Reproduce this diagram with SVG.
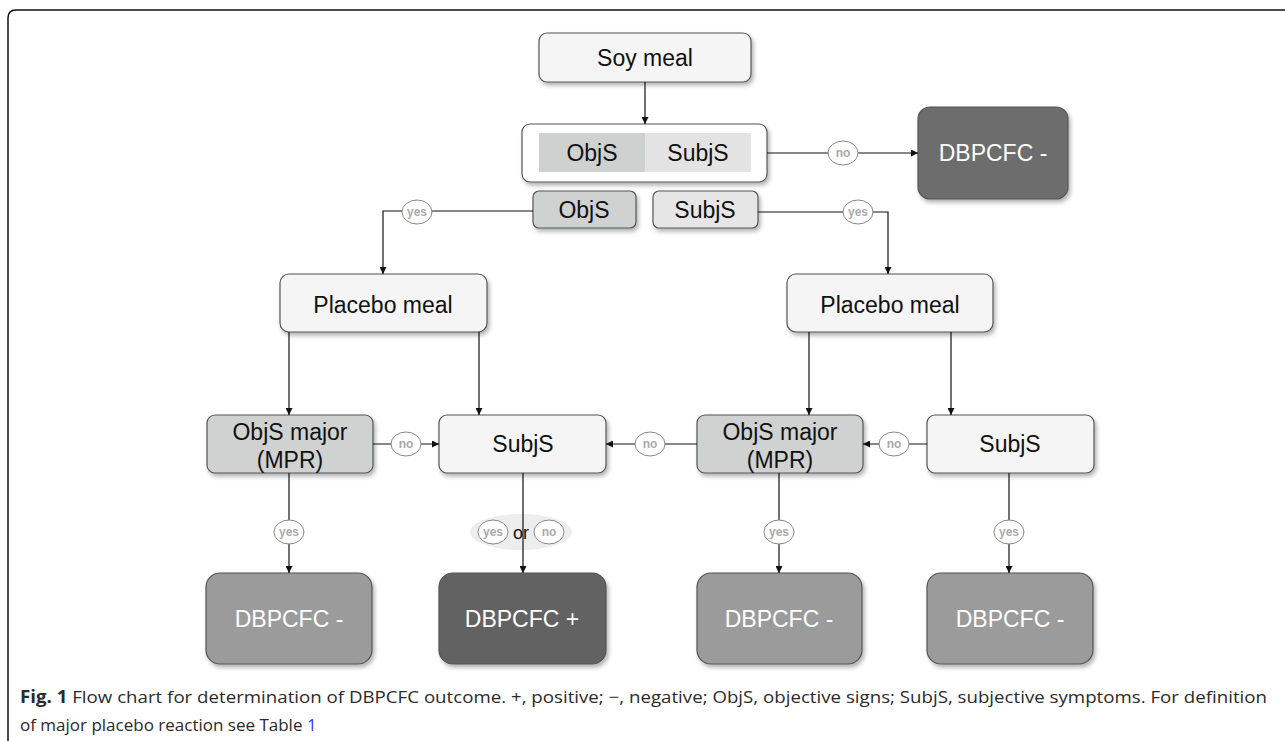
<svg xmlns="http://www.w3.org/2000/svg" width="1285" height="741" viewBox="0 0 1285 741">
<defs>
<filter id="sh" x="-10%" y="-10%" width="130%" height="140%">
<feDropShadow dx="2" dy="3" stdDeviation="2" flood-color="#000" flood-opacity="0.3"/>
</filter>
<marker id="ar" viewBox="0 0 10 10" refX="10" refY="5" markerWidth="7" markerHeight="7" orient="auto" markerUnits="userSpaceOnUse">
<path d="M0,0 L10,5 L0,10 z" fill="#111"/>
</marker>
</defs>
<style>
.box{stroke:#555;stroke-width:1.2}
.lt{fill:#f4f5f4}
.ob{fill:#d0d2d1}
.t{font-family:"Liberation Sans",Arial,sans-serif;font-size:23px;fill:#111;text-anchor:middle}
.w{fill:#fff}
.ln{stroke:#111;stroke-width:1.2;fill:none}
.lab ellipse{fill:#fff;stroke:#888;stroke-width:1}
.lab text{font-family:"Liberation Sans",Arial,sans-serif;font-size:12px;font-weight:bold;fill:#aaa;text-anchor:middle}
.cap{font-family:"Open Sans","Liberation Sans",sans-serif;font-size:17px;fill:#2a2a2a}
</style>
<rect width="1285" height="741" fill="#fff"/>
<path d="M8,741 L8,18 Q8,10 16,10 L1285,10" fill="none" stroke="#111" stroke-width="1.5"/>

<g id="soy"><rect class="box lt" x="539" y="33" width="212" height="49" rx="8" filter="url(#sh)"/><text class="t" x="645" y="66">Soy meal</text></g>
<g id="composite"><rect class="box" fill="#fff" x="522" y="124" width="245" height="58" rx="8" filter="url(#sh)"/>
<rect x="539" y="133" width="106" height="39" fill="#cfd1d0"/><rect x="645" y="133" width="106" height="39" fill="#e3e3e3"/>
<text class="t" x="592" y="161">ObjS</text><text class="t" x="698" y="161">SubjS</text></g>
<g id="dbpcfc-top"><rect class="box" fill="#6d6d6d" x="918" y="107" width="150" height="92" rx="12" filter="url(#sh)"/><text class="t w" x="993" y="161">DBPCFC -</text></g>
<g id="objs-small"><rect class="box ob" x="533" y="191" width="103" height="37" rx="6" filter="url(#sh)"/><text class="t" x="584" y="218">ObjS</text></g>
<g id="subjs-small"><rect class="box" fill="#e6e6e6" x="653" y="191" width="105" height="37" rx="6" filter="url(#sh)"/><text class="t" x="705" y="218">SubjS</text></g>
<g id="placebo-l"><rect class="box lt" x="280" y="274" width="207" height="58" rx="9" filter="url(#sh)"/><text class="t" x="383" y="313">Placebo meal</text></g>
<g id="placebo-r"><rect class="box lt" x="787" y="274" width="206" height="58" rx="9" filter="url(#sh)"/><text class="t" x="890" y="313">Placebo meal</text></g>
<g id="objsmajor-l"><rect class="box ob" x="207" y="415" width="166" height="58" rx="8" filter="url(#sh)"/><text class="t" x="290" y="440">ObjS major</text><text class="t" x="290" y="468">(MPR)</text></g>
<g id="subjs-l"><rect class="box lt" x="439" y="415" width="167" height="58" rx="8" filter="url(#sh)"/><text class="t" x="523" y="452">SubjS</text></g>
<g id="objsmajor-r"><rect class="box ob" x="697" y="415" width="166" height="58" rx="8" filter="url(#sh)"/><text class="t" x="780" y="440">ObjS major</text><text class="t" x="780" y="468">(MPR)</text></g>
<g id="subjs-r"><rect class="box lt" x="927" y="415" width="167" height="58" rx="8" filter="url(#sh)"/><text class="t" x="1010" y="452">SubjS</text></g>
<g id="neg1"><rect class="box" fill="#9b9b9b" x="206" y="573" width="166" height="91" rx="14" filter="url(#sh)"/><text class="t w" x="289" y="627">DBPCFC -</text></g>
<g id="pos"><rect class="box" fill="#626262" x="439" y="573" width="167" height="91" rx="14" filter="url(#sh)"/><text class="t w" x="522" y="627">DBPCFC +</text></g>
<g id="neg2"><rect class="box" fill="#9b9b9b" x="697" y="573" width="165" height="91" rx="14" filter="url(#sh)"/><text class="t w" x="779" y="627">DBPCFC -</text></g>
<g id="neg3"><rect class="box" fill="#9b9b9b" x="927" y="573" width="166" height="91" rx="14" filter="url(#sh)"/><text class="t w" x="1010" y="627">DBPCFC -</text></g>

<g id="connectors">
<path class="ln" d="M645,82 V124" marker-end="url(#ar)"/>
<path class="ln" d="M767,153 H918" marker-end="url(#ar)"/>
<path class="ln" d="M533,211 H383 V274" marker-end="url(#ar)"/>
<path class="ln" d="M758,212 H888 V274" marker-end="url(#ar)"/>
<path class="ln" d="M289,332 V415" marker-end="url(#ar)"/>
<path class="ln" d="M479,332 V415" marker-end="url(#ar)"/>
<path class="ln" d="M809,332 V415" marker-end="url(#ar)"/>
<path class="ln" d="M951,332 V415" marker-end="url(#ar)"/>
<path class="ln" d="M373,444 H439" marker-end="url(#ar)"/>
<path class="ln" d="M697,444 H606" marker-end="url(#ar)"/>
<path class="ln" d="M927,444 H863" marker-end="url(#ar)"/>
<path class="ln" d="M289,473 V573" marker-end="url(#ar)"/>
<path class="ln" d="M779,473 V573" marker-end="url(#ar)"/>
<path class="ln" d="M1009,473 V573" marker-end="url(#ar)"/>
<ellipse cx="521" cy="532" rx="51" ry="18" fill="#e9e9e9" opacity="0.8"/>
<path class="ln" d="M523,473 V573" marker-end="url(#ar)"/>
<g class="lab">
<ellipse cx="843" cy="153" rx="15" ry="12"/><text x="843" y="157">no</text>
<ellipse cx="417" cy="212" rx="15" ry="12"/><text x="417" y="216">yes</text>
<ellipse cx="858" cy="212" rx="15" ry="12"/><text x="858" y="216">yes</text>
<ellipse cx="406" cy="444" rx="15" ry="12"/><text x="406" y="448">no</text>
<ellipse cx="650" cy="444" rx="15" ry="12"/><text x="650" y="448">no</text>
<ellipse cx="894" cy="444" rx="15" ry="12"/><text x="894" y="448">no</text>
<ellipse cx="289" cy="532" rx="15" ry="12"/><text x="289" y="536">yes</text>
<ellipse cx="779" cy="532" rx="15" ry="12"/><text x="779" y="536">yes</text>
<ellipse cx="1009" cy="532" rx="15" ry="12"/><text x="1009" y="536">yes</text>
<ellipse cx="493" cy="532" rx="15" ry="12"/><text x="493" y="536">yes</text>
<ellipse cx="549" cy="532" rx="15" ry="12"/><text x="549" y="536">no</text>
</g>
<text x="521" y="539" font-family="Liberation Sans,Arial,sans-serif" font-size="18" fill="#111" text-anchor="middle">or</text>
</g>

<text class="cap" x="20" y="703" textLength="1247" lengthAdjust="spacingAndGlyphs"><tspan font-weight="bold">Fig. 1</tspan>  Flow chart for determination of DBPCFC outcome. +, positive; −, negative; ObjS, objective signs; SubjS, subjective symptoms. For definition</text>
<text class="cap" x="20" y="731">of major placebo reaction see Table <tspan fill="#3a3aff">1</tspan></text>
</svg>
